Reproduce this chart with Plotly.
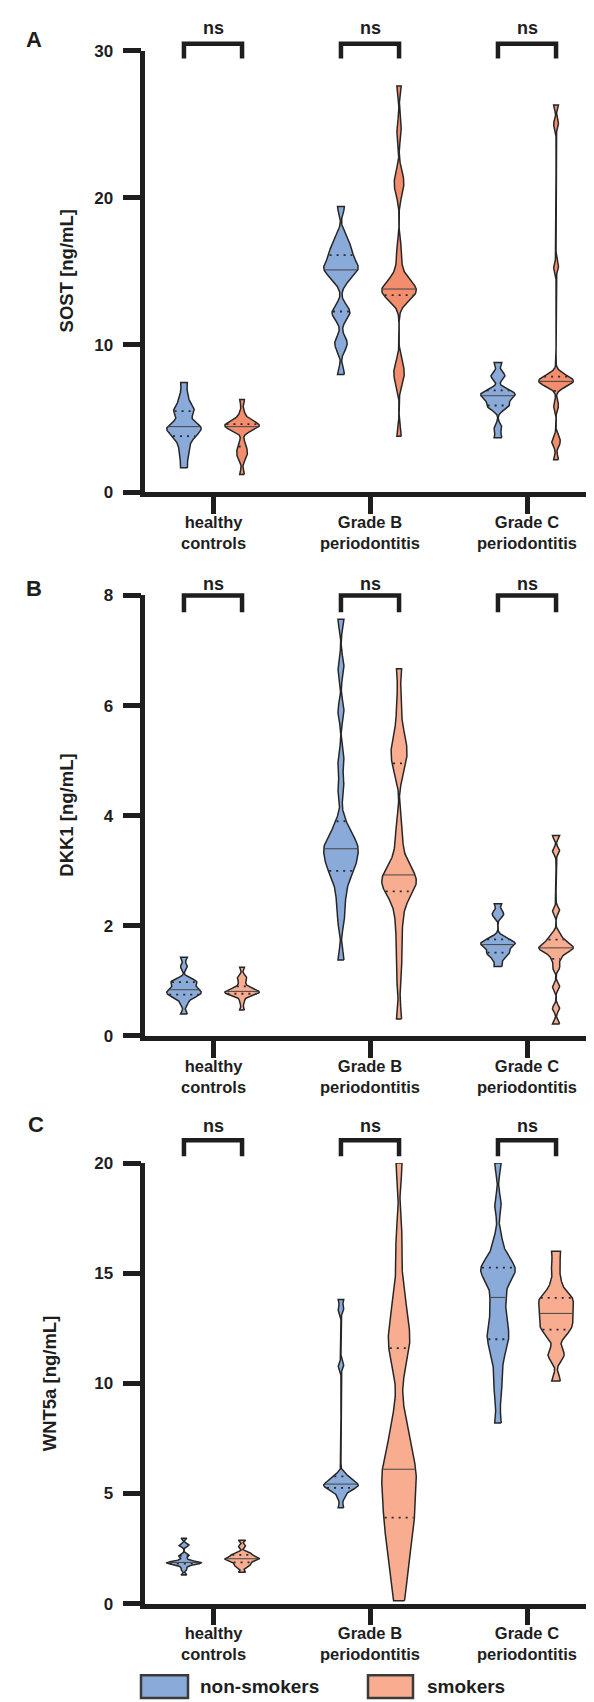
import numpy as np
import plotly.graph_objects as go

# ---------------- data ----------------
cat_line1 = ["healthy", "Grade B", "Grade C"]
cat_line2 = ["controls", "periodontitis", "periodontitis"]
group_names = ["non-smokers", "smokers"]
sig_labels = ["ns", "ns", "ns"]

sost_healthy_non = [1.65, 2.4, 3.0, 3.5, 3.8, 4.0, 4.2, 4.35, 4.45, 4.5, 4.6, 5.35, 5.5, 5.6, 6.0, 6.6, 7.45]
sost_healthy_smk = [1.2, 2.3, 2.6, 2.9, 3.3, 4.3, 4.4, 4.45, 4.5, 4.55, 4.6, 4.65, 4.7, 5.3, 6.3]
sost_gradeB_non = [8.0, 9.9, 10.3, 11.9, 12.2, 12.5, 14.3, 14.8, 15.0, 15.2, 15.3, 15.5, 15.8, 16.2, 16.5, 16.8, 17.4, 19.4]
sost_gradeB_smk = [3.8, 7.6, 8.1, 8.6, 13.2, 13.45, 13.55, 13.65, 13.7, 13.75, 13.85, 14.0, 14.4, 15.2, 16.5, 20.4, 21.0, 21.6, 24.6, 27.6]
sost_gradeC_non = [3.7, 4.4, 5.7, 5.85, 6.0, 6.3, 6.5, 6.6, 6.65, 6.8, 6.95, 7.8, 8.0, 8.8]
sost_gradeC_smk = [2.2, 3.3, 3.6, 5.9, 7.2, 7.35, 7.45, 7.5, 7.55, 7.6, 7.7, 7.8, 8.0, 15.3, 25.0, 26.3]

dkk1_healthy_non = [0.40, 0.58, 0.68, 0.72, 0.75, 0.77, 0.79, 0.81, 0.84, 0.86, 0.90, 0.95, 0.98, 1.00, 1.02, 1.26, 1.43]
dkk1_healthy_smk = [0.47, 0.62, 0.73, 0.76, 0.77, 0.78, 0.79, 0.80, 0.82, 0.83, 0.85, 0.88, 0.96, 1.04, 1.08, 1.25]
dkk1_gradeB_non = [1.38, 2.1, 2.45, 2.7, 2.9, 3.0, 3.08, 3.16, 3.24, 3.32, 3.4, 3.45, 3.5, 3.58, 3.7, 3.9, 4.5, 5.0, 5.9, 6.7, 7.57]
dkk1_gradeB_smk = [0.31, 1.1, 1.6, 2.05, 2.4, 2.6, 2.7, 2.75, 2.8, 2.85, 2.9, 2.95, 3.1, 3.4, 3.8, 4.8, 5.0, 5.15, 5.3, 5.5, 6.0, 6.67]
dkk1_gradeC_non = [1.26, 1.38, 1.46, 1.50, 1.52, 1.58, 1.62, 1.65, 1.67, 1.69, 1.72, 1.74, 1.80, 2.18, 2.25, 2.40]
dkk1_gradeC_smk = [0.22, 0.5, 0.9, 1.25, 1.4, 1.5, 1.55, 1.58, 1.6, 1.62, 1.65, 1.7, 1.75, 1.85, 2.28, 3.36, 3.64]

wnt5a_healthy_non = [1.3, 1.55, 1.7, 1.78, 1.82, 1.84, 1.85, 1.86, 1.88, 1.9, 2.0, 2.15, 2.2, 2.62, 2.68, 2.97]
wnt5a_healthy_smk = [1.42, 1.65, 1.75, 1.8, 1.9, 1.95, 2.0, 2.02, 2.05, 2.08, 2.12, 2.2, 2.25, 2.3, 2.6, 2.88]
wnt5a_gradeB_non = [4.35, 4.8, 5.05, 5.2, 5.27, 5.32, 5.36, 5.4, 5.45, 5.5, 5.6, 5.75, 5.85, 10.8, 13.35, 13.8]
wnt5a_gradeB_smk = [0.13, 1.0, 1.8, 2.5, 3.0, 3.5, 3.9, 4.2, 4.7, 5.2, 5.6, 5.9, 6.1, 6.5, 7.0, 7.8, 8.6, 10.8, 11.6, 11.9, 12.5, 13.2, 14.3, 16.5, 20.0]
wnt5a_gradeC_non = [8.2, 9.5, 10.4, 11.2, 11.7, 12.0, 12.3, 12.6, 13.0, 13.6, 13.9, 14.5, 14.9, 15.05, 15.15, 15.25, 15.4, 15.8, 16.5, 18.1, 20.0]
wnt5a_gradeC_smk = [10.1, 11.2, 11.4, 12.1, 12.4, 12.55, 12.7, 12.9, 13.1, 13.25, 13.4, 13.65, 13.8, 13.9, 14.1, 14.6, 15.3, 16.0]

sost_ticks = [0, 10, 20, 30]
dkk1_ticks = [0, 2, 4, 6, 8]
wnt5a_ticks = [0, 5, 10, 15, 20]

# ---------------- style / layout constants ----------------
W, H = 594, 1702
FONT = "Liberation Sans, Arial, sans-serif"
INK = "#1e1e1e"
BLUE = "#8AAAD9"
ORANGE_A = "#F28E6E"
ORANGE = "#F8AD90"
AXW = 4.5

X_LINE_PX = 135.0
X_END_PX = 590.0
CAT0_PX = 205.0
CAT_STEP_PX = 157.0
X_DOM0 = X_LINE_PX + AXW / 2
XR0 = (X_DOM0 - CAT0_PX) / CAT_STEP_PX
XR1 = (X_END_PX - CAT0_PX) / CAT_STEP_PX
OFFSET = 0.185     # group offset in category units
HALF_W = 0.11      # max half width of a violin in category units


def yp(px):
    return 1 - px / H


panels = [
    dict(title="SOST [ng/mL]", ticks=sost_ticks,
         data=[[sost_healthy_non, sost_healthy_smk], [sost_gradeB_non, sost_gradeB_smk],
               [sost_gradeC_non, sost_gradeC_smk]],
         bw=[[0.35, 0.3], [0.45, 0.6], [0.25, 0.3]],
         p0=480.5, ptop=34, title_x=58, letter=("A", 26, 23),
         ns_px=11, br_top=27, br_bot=42, orange=ORANGE_A),
    dict(title="DKK1 [ng/mL]", ticks=dkk1_ticks,
         data=[[dkk1_healthy_non, dkk1_healthy_smk], [dkk1_gradeB_non, dkk1_gradeB_smk],
               [dkk1_gradeC_non, dkk1_gradeC_smk]],
         bw=[[0.05, 0.045], [0.17, 0.22], [0.05, 0.06]],
         p0=1030.5, ptop=585, title_x=59, letter=("B", 26, 578),
         ns_px=573, br_top=585, br_bot=602, orange=ORANGE),
    dict(title="WNT5a [ng/mL]", ticks=wnt5a_ticks,
         data=[[wnt5a_healthy_non, wnt5a_healthy_smk], [wnt5a_gradeB_non, wnt5a_gradeB_smk],
               [wnt5a_gradeC_non, wnt5a_gradeC_smk]],
         bw=[[0.06, 0.07], [0.15, 0.9], [0.45, 0.28]],
         p0=1604.5, ptop=1159, title_x=41, letter=("C", 28, 1120),
         ns_px=1122, br_top=1136, br_bot=1152, orange=ORANGE),
]

fig = go.Figure()
shapes, annotations = [], []
layout = {}


def kde_outline(vals, bw):
    v = np.asarray(vals, float)
    grid = np.linspace(v.min(), v.max(), 400)
    dens = np.exp(-0.5 * ((grid[:, None] - v[None, :]) / bw) ** 2).sum(axis=1)
    return grid, dens / dens.max()


for pi, p in enumerate(panels):
    n = pi + 1
    xa, ya = ("x" if n == 1 else f"x{n}"), ("y" if n == 1 else f"y{n}")
    ymax = p["ticks"][-1]
    span = p["p0"] - p["ptop"]
    ydom = [yp(p["p0"]), yp(p["ptop"])]

    for ci in range(3):
        for gi in range(2):
            vals = p["data"][ci][gi]
            center = ci + (-OFFSET if gi == 0 else OFFSET)
            grid, rel = kde_outline(vals, p["bw"][ci][gi])
            hw = HALF_W * rel
            xs = np.concatenate([center + hw, (center - hw)[::-1], [center + hw[0]]])
            ys = np.concatenate([grid, grid[::-1], [grid[0]]])
            color = BLUE if gi == 0 else p["orange"]
            fig.add_trace(go.Scatter(x=xs, y=ys, mode="lines", fill="toself",
                                     fillcolor=color, line=dict(color="#262626", width=1.5),
                                     xaxis=xa, yaxis=ya, showlegend=False, hoverinfo="skip"))
            q1, med, q3 = np.percentile(vals, [25, 50, 75])
            for q, dash, lw, col in [(q1, "2px,5px", 1.8, "#2a2a2a"), (med, "solid", 1.0, "#444444"),
                                     (q3, "2px,5px", 1.8, "#2a2a2a")]:
                h = HALF_W * np.interp(q, grid, rel) - 0.006
                fig.add_trace(go.Scatter(x=[center - h, center + h], y=[q, q], mode="lines",
                                         line=dict(color=col, width=lw, dash=dash),
                                         xaxis=xa, yaxis=ya, showlegend=False, hoverinfo="skip"))

    axis_common = dict(showline=True, linewidth=AXW, linecolor=INK, ticks="outside",
                       tickwidth=AXW, tickcolor=INK, showgrid=False, zeroline=False)
    layout["xaxis" if n == 1 else f"xaxis{n}"] = dict(
        axis_common, domain=[X_DOM0 / W, X_END_PX / W], range=[XR0, XR1],
        tickvals=[0, 1, 2], ticklen=17, showticklabels=False, anchor=ya, fixedrange=True)
    layout["yaxis" if n == 1 else f"yaxis{n}"] = dict(
        axis_common, domain=ydom, range=[0, ymax], tickvals=p["ticks"],
        ticklen=18, ticklabelstandoff=6, anchor=xa, fixedrange=True,
        tickfont=dict(family=FONT, size=17, color=INK, weight="bold"))

    for ci in range(3):
        # category label (two lines)
        annotations.append(dict(x=ci, xref=xa, y=-19 / span, yref=f"{ya} domain",
                                text=f"<b>{cat_line1[ci]}<br>{cat_line2[ci]}</b>", showarrow=False,
                                xanchor="center", yanchor="top",
                                font=dict(family=FONT, size=16.5, color=INK)))
        # significance bracket
        xl = (ci - OFFSET - XR0) / (XR1 - XR0)
        xr = (ci + OFFSET - XR0) / (XR1 - XR0)
        yt = 1 + (p["ptop"] - p["br_top"]) / span
        yb = 1 + (p["ptop"] - p["br_bot"]) / span
        shapes.append(dict(type="path", xref=f"{xa} domain", yref=f"{ya} domain",
                           path=f"M {xl},{yb} L {xl},{yt} L {xr},{yt} L {xr},{yb}",
                           line=dict(color=INK, width=AXW)))
        annotations.append(dict(x=ci, xref=xa, y=1 + (p["ptop"] - p["ns_px"]) / span,
                                yref=f"{ya} domain", text=f"<b>{sig_labels[ci]}</b>",
                                showarrow=False, xanchor="center", yanchor="middle",
                                font=dict(family=FONT, size=18, color=INK)))

    # axis title
    annotations.append(dict(x=p["title_x"] / W, xref="paper", y=yp((p["p0"] + p["ptop"]) / 2),
                            yref="paper", text=f"<b>{p['title']}</b>", textangle=-90,
                            showarrow=False, xanchor="center", yanchor="middle",
                            font=dict(family=FONT, size=18.5, color=INK)))
    # panel letter
    L, lx, ly = p["letter"]
    annotations.append(dict(x=lx / W, xref="paper", y=yp(ly), yref="paper", text=f"<b>{L}</b>",
                            showarrow=False, xanchor="center", yanchor="middle",
                            font=dict(family=FONT, size=22, color=INK)))

# legend
for gi, (bx0, bx1, tx) in enumerate([(133, 180, 190), (360, 405, 417)]):
    shapes.append(dict(type="rect", xref="paper", yref="paper", x0=bx0 / W, x1=bx1 / W,
                       y0=yp(1700), y1=yp(1677), fillcolor=BLUE if gi == 0 else ORANGE,
                       line=dict(color="#3a3a3a", width=2.5)))
    annotations.append(dict(x=tx / W, xref="paper", y=yp(1688), yref="paper",
                            text=f"<b>{group_names[gi]}</b>", showarrow=False,
                            xanchor="left", yanchor="middle",
                            font=dict(family=FONT, size=19, color=INK)))

fig.update_layout(width=W, height=H, margin=dict(l=0, r=0, t=0, b=0),
                  paper_bgcolor="white", plot_bgcolor="white", showlegend=False,
                  shapes=shapes, annotations=annotations, **layout)

fig.write_html("out.html")
